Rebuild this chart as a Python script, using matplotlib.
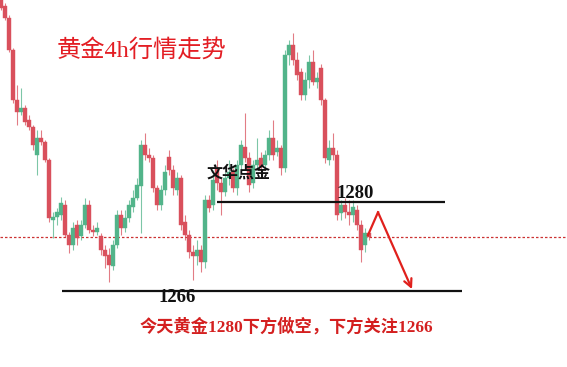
import matplotlib
matplotlib.use("Agg")
import matplotlib.pyplot as plt
import numpy as np

# 4h gold candles (price)
opens = [1311.8, 1310.9, 1309.0, 1303.9, 1296.1, 1294.2, 1294.8, 1292.9, 1291.8, 1287.4,
         1290.1, 1289.5, 1286.6, 1277.2, 1277.7, 1278.0, 1279.5, 1274.8, 1273.3, 1276.4,
         1274.7, 1276.4, 1279.5, 1275.6, 1275.3, 1274.7, 1272.5, 1271.7, 1270.0, 1273.3,
         1278.0, 1275.9, 1277.5, 1279.2, 1280.7, 1282.5, 1289.0, 1287.4, 1286.9, 1282.2,
         1279.5, 1281.9, 1287.1, 1285.0, 1281.9, 1283.8, 1276.9, 1274.8, 1272.2, 1271.5,
         1272.5, 1270.6, 1280.3, 1279.5, 1285.4, 1283.0, 1281.6, 1283.8, 1284.7, 1282.2,
         1285.8, 1288.7, 1286.9, 1283.0, 1285.8, 1286.9, 1285.8, 1287.4, 1290.1, 1287.9,
         1288.5, 1285.4, 1303.1, 1304.7, 1302.4, 1300.5, 1296.9, 1299.2, 1302.0, 1298.9,
         1301.1, 1296.1, 1286.6, 1288.5, 1287.4, 1278.3, 1279.5, 1278.4, 1278.0, 1278.8,
         1276.4, 1273.3, 1275.1]
closes = [1310.5, 1309.0, 1303.9, 1296.1, 1294.2, 1294.8, 1292.6, 1291.8, 1289.0, 1290.1,
          1289.5, 1286.6, 1277.5, 1277.7, 1278.4, 1279.9, 1274.8, 1273.3, 1275.9, 1274.4,
          1276.4, 1279.5, 1275.6, 1275.3, 1275.9, 1272.5, 1271.5, 1270.1, 1273.3, 1278.0,
          1275.9, 1277.5, 1279.5, 1280.7, 1282.7, 1289.0, 1287.4, 1286.9, 1282.2, 1279.5,
          1281.9, 1284.7, 1285.0, 1282.2, 1283.8, 1276.4, 1274.8, 1272.2, 1271.5, 1272.5,
          1270.6, 1280.3, 1279.1, 1283.5, 1283.0, 1281.6, 1283.8, 1284.7, 1282.2, 1285.8,
          1289.0, 1286.9, 1282.7, 1285.8, 1286.6, 1285.5, 1287.4, 1290.1, 1287.4, 1288.5,
          1285.4, 1303.1, 1304.7, 1302.4, 1300.0, 1296.9, 1299.2, 1302.0, 1298.9, 1299.5,
          1296.1, 1286.9, 1288.5, 1287.4, 1278.0, 1279.5, 1278.4, 1278.0, 1279.2, 1276.4,
          1272.5, 1275.1, 1274.5]
highs = [1312.3, 1311.3, 1309.4, 1304.2, 1298.4, 1298.0, 1295.3, 1293.7, 1292.1, 1291.3,
         1291.3, 1289.8, 1286.9, 1278.4, 1279.1, 1280.8, 1280.3, 1275.3, 1276.9, 1277.2,
         1277.2, 1280.7, 1280.3, 1276.4, 1276.9, 1275.1, 1273.3, 1272.8, 1274.0, 1278.8,
         1278.8, 1278.8, 1280.3, 1281.9, 1283.8, 1289.8, 1290.9, 1288.5, 1287.4, 1282.7,
         1282.7, 1285.8, 1288.2, 1285.8, 1284.7, 1284.3, 1278.0, 1275.6, 1273.3, 1274.0,
         1273.3, 1281.1, 1281.1, 1285.0, 1286.6, 1283.8, 1284.7, 1286.6, 1285.4, 1286.6,
         1289.8, 1294.0, 1287.9, 1286.6, 1290.1, 1287.9, 1288.2, 1291.3, 1292.9, 1289.8,
         1289.0, 1303.9, 1305.5, 1306.6, 1303.6, 1301.1, 1300.5, 1303.1, 1303.9, 1300.5,
         1301.7, 1296.4, 1289.8, 1290.9, 1288.2, 1280.3, 1280.7, 1280.3, 1280.3, 1279.5,
         1277.2, 1275.9, 1275.6]
lows = [1310.2, 1308.7, 1303.6, 1295.6, 1292.1, 1293.7, 1292.1, 1291.3, 1288.2, 1284.3,
        1289.0, 1286.3, 1276.9, 1274.4, 1276.4, 1277.2, 1274.5, 1272.0, 1272.5, 1273.3,
        1274.0, 1275.9, 1275.1, 1274.7, 1274.8, 1271.7, 1269.6, 1267.4, 1269.3, 1272.8,
        1274.8, 1275.3, 1276.9, 1278.4, 1280.3, 1275.1, 1286.6, 1286.3, 1281.6, 1278.7,
        1278.7, 1281.1, 1284.3, 1281.1, 1281.1, 1275.6, 1274.0, 1271.2, 1267.8, 1270.1,
        1269.0, 1269.6, 1278.4, 1278.7, 1281.9, 1278.0, 1281.0, 1282.7, 1281.6, 1281.1,
        1285.0, 1286.3, 1281.6, 1282.2, 1285.0, 1284.7, 1285.4, 1286.6, 1286.6, 1287.3,
        1284.3, 1284.7, 1301.6, 1301.6, 1299.2, 1296.1, 1296.1, 1298.0, 1298.4, 1298.0,
        1295.3, 1286.2, 1285.8, 1286.6, 1277.2, 1277.2, 1277.5, 1276.4, 1276.9, 1275.6,
        1270.6, 1272.2, 1274.0]

resistance = 1280
support = 1266
ref_price = 1274.5
arrow_path = [1274.8, 1278.4, 1266.3]

title_text = "黄金4h行情走势"
watermark = "文华点金"
bottom_text = "今天黄金1280下方做空，下方关注1266"

RED = "#d9505c"
GREEN = "#52b48a"

fig = plt.figure(figsize=(5.67, 3.67), dpi=100)
ax = fig.add_axes([0, 0, 1, 1])
ax.set_xlim(-0.25, 141.5)
ax.set_ylim(1254.05, 1311.8)
ax.axis("off")

o = np.array(opens); c = np.array(closes); h = np.array(highs); l = np.array(lows)
idx = np.arange(len(o))
up = c >= o
cols = np.where(up, GREEN, RED)
ax.vlines(idx, l, h, colors=cols, linewidth=0.8, alpha=0.75, zorder=2)
bottoms = np.minimum(o, c)
heights = np.maximum(np.abs(c - o), 0.35)
ax.bar(idx, heights, bottom=bottoms, width=0.78, color=cols, edgecolor=cols,
       linewidth=0.3, zorder=3)

# reference dashed line
ax.axhline(ref_price, color="#cc3333", linewidth=0.9, dashes=(2, 1.6), zorder=1)
# levels
ax.hlines(resistance, 54, 111, color="#111111", linewidth=1.6, zorder=4)
ax.hlines(support, 15.25, 115.25, color="#111111", linewidth=1.6, zorder=4)

# arrow
ax.plot([91.75, 94.25], arrow_path[:2], color="#e0201c", linewidth=1.6, zorder=5)
ax.annotate("", xy=(102.75, arrow_path[2]), xytext=(94.25, arrow_path[1]),
            arrowprops=dict(arrowstyle="->", color="#e0201c", lw=1.6,
                            mutation_scale=14, shrinkA=0, shrinkB=0), zorder=5)

mix = ["Liberation Serif", "Noto Sans CJK SC"]
def fx(px):
    return px / 567.0
def fy(py):
    return 1 - py / 367.0

fig.text(fx(57), fy(50), title_text, family=mix, fontsize=17.5, color="#e31e24",
         ha="left", va="center", fontweight="medium")
fig.text(fx(207), fy(173), watermark, family=["Noto Sans CJK SC"], fontsize=11.5,
         color="#111111", ha="left", va="center", fontweight="bold")
fig.text(fx(337), fy(193), str(resistance), family=["Liberation Serif"], fontsize=13.5,
         color="#111111", ha="left", va="center", fontweight="bold")
fig.text(fx(158), fy(297), str(support), family=["Liberation Serif"], fontsize=13.5,
         color="#111111", ha="left", va="center", fontweight="bold")
fig.text(fx(140), fy(327), bottom_text, family=mix, fontsize=12.4, color="#d42020",
         ha="left", va="center", fontweight="bold")

fig.savefig("out.png", dpi=100, facecolor="white")
